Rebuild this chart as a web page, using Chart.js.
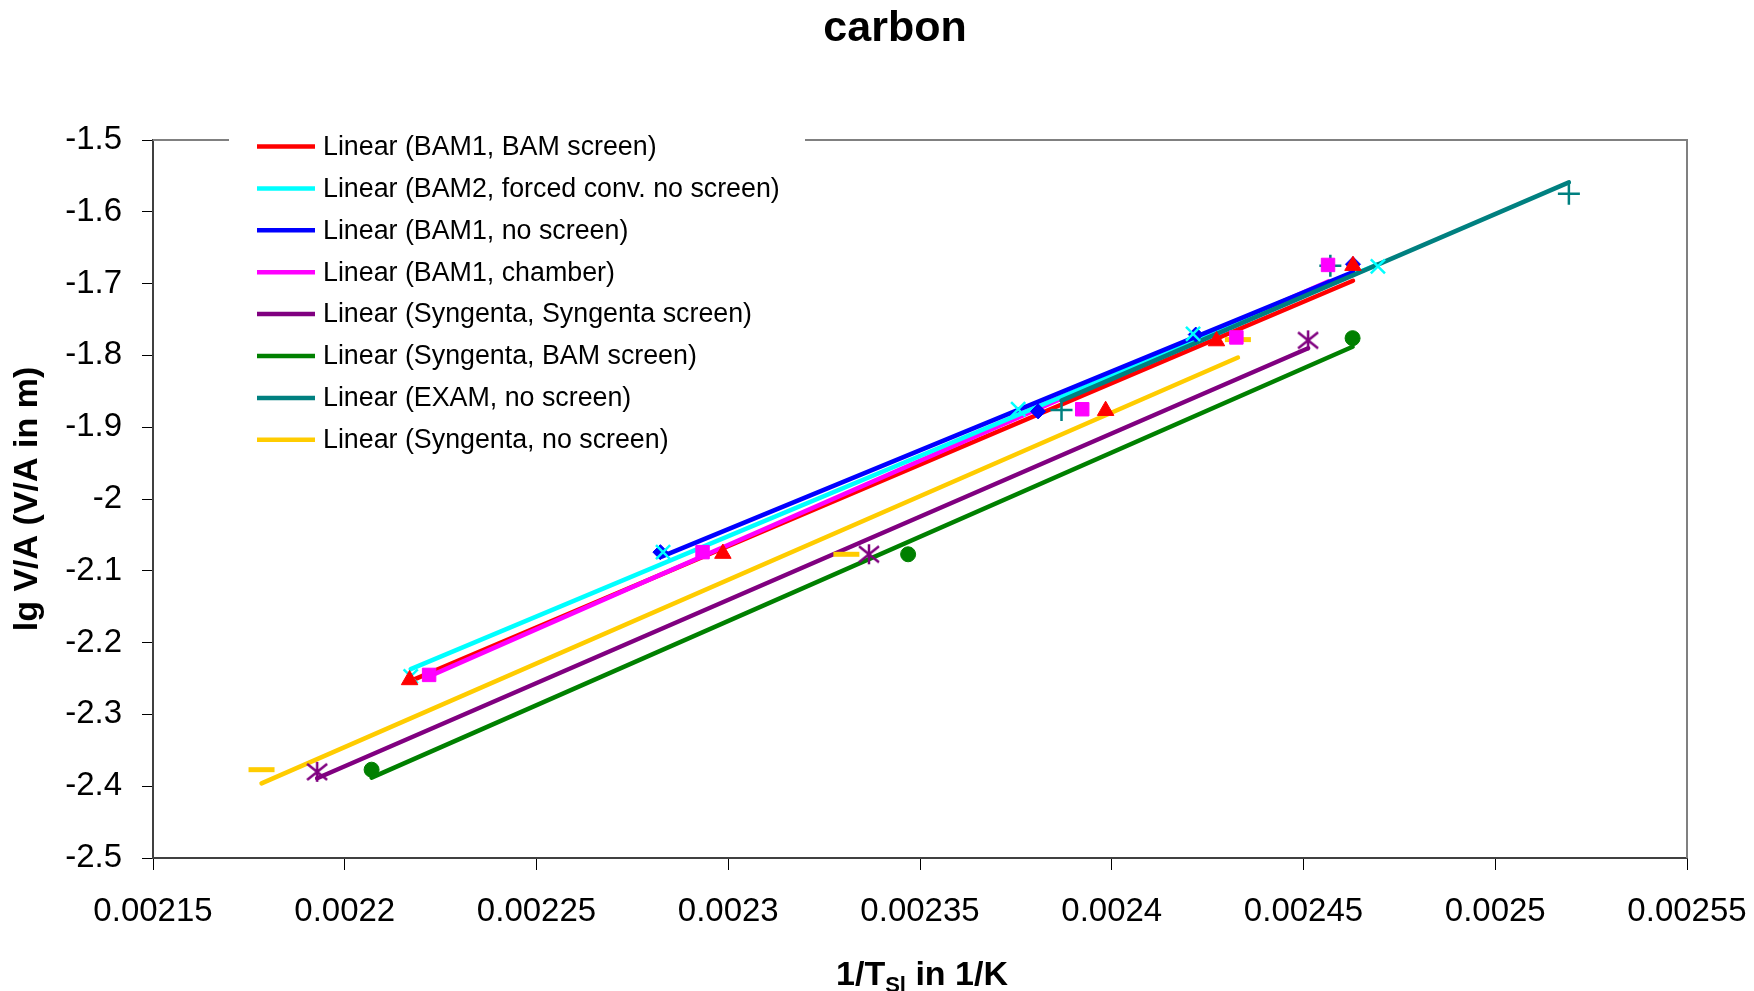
<!DOCTYPE html>
<html lang="en">
<head>
<meta charset="UTF-8">
<title>carbon</title>
<script src="https://cdn.jsdelivr.net/npm/chart.js"></script>
<style>
  html, body { margin: 0; padding: 0; background: #fff; }
  canvas { display: block; }
</style>
</head>
<body>
<canvas id="chart" width="1754" height="991"></canvas>
<script>
// axis ticks
const xTicks = [0.00215, 0.0022, 0.00225, 0.0023, 0.00235, 0.0024, 0.00245, 0.0025, 0.00255];
const xTickLabels = ['0.00215', '0.0022', '0.00225', '0.0023', '0.00235', '0.0024', '0.00245', '0.0025', '0.00255'];
const yTicks = [-2.5, -2.4, -2.3, -2.2, -2.1, -2, -1.9, -1.8, -1.7, -1.6, -1.5];
const yTickLabels = ['-2.5', '-2.4', '-2.3', '-2.2', '-2.1', '-2', '-1.9', '-1.8', '-1.7', '-1.6', '-1.5'];

const seriesNames = [
  'BAM1, BAM screen',
  'BAM2, forced conv. no screen',
  'BAM1, no screen',
  'BAM1, chamber',
  'Syngenta, Syngenta screen',
  'Syngenta, BAM screen',
  'EXAM, no screen',
  'Syngenta, no screen'
];

// measured points (1/T, lg V/A)
const bam1ScreenX  = [0.0022169, 0.0022986, 0.0023984, 0.0024273, 0.0024629];
const bam1ScreenY  = [-2.252, -2.076, -1.877, -1.780, -1.675];
const bam2ForcedX  = [0.0022172, 0.0022830, 0.0023756, 0.0024212, 0.0024694];
const bam2ForcedY  = [-2.247, -2.074, -1.875, -1.770, -1.676];
const bam1NoScrX   = [0.0022823, 0.0023808, 0.0024219, 0.0024629];
const bam1NoScrY   = [-2.074, -1.878, -1.771, -1.673];
const bam1ChamberX = [0.0022220, 0.0022933, 0.0023923, 0.0024325, 0.0024564];
const bam1ChamberY = [-2.245, -2.074, -1.875, -1.775, -1.674];
const synSynX      = [0.0021928, 0.0023367, 0.0024512];
const synSynY      = [-2.380, -2.077, -1.779];
const synBamX      = [0.0022070, 0.0023469, 0.0024628];
const synBamY      = [-2.377, -2.077, -1.776];
const examX        = [0.0023869, 0.0024570, 0.0025192];
const examY        = [-1.876, -1.675, -1.575];
const synNoScrX    = [0.0021783, 0.0023308, 0.0024329];
const synNoScrY    = [-2.377, -2.077, -1.778];

// linear trendlines, end points
const bam1ScreenFitX  = [0.0022169, 0.0024629];
const bam1ScreenFitY  = [-2.254, -1.696];
const bam2ForcedFitX  = [0.0022172, 0.0024694];
const bam2ForcedFitY  = [-2.237, -1.673];
const bam1NoScrFitX   = [0.0022823, 0.0024629];
const bam1NoScrFitY   = [-2.081, -1.684];
const bam1ChamberFitX = [0.0022220, 0.0024564];
const bam1ChamberFitY = [-2.247, -1.697];
const synSynFitX      = [0.0021928, 0.0024512];
const synSynFitY      = [-2.389, -1.790];
const synBamFitX      = [0.0022070, 0.0024628];
const synBamFitY      = [-2.388, -1.788];
const examFitX        = [0.0023869, 0.0025192];
const examFitY        = [-1.863, -1.559];
const synNoScrFitX    = [0.0021783, 0.0024329];
const synNoScrFitY    = [-2.396, -1.803];

const series = [
  [bam1ScreenX, bam1ScreenY, bam1ScreenFitX, bam1ScreenFitY],
  [bam2ForcedX, bam2ForcedY, bam2ForcedFitX, bam2ForcedFitY],
  [bam1NoScrX, bam1NoScrY, bam1NoScrFitX, bam1NoScrFitY],
  [bam1ChamberX, bam1ChamberY, bam1ChamberFitX, bam1ChamberFitY],
  [synSynX, synSynY, synSynFitX, synSynFitY],
  [synBamX, synBamY, synBamFitX, synBamFitY],
  [examX, examY, examFitX, examFitY],
  [synNoScrX, synNoScrY, synNoScrFitX, synNoScrFitY]
];

const FONT = "'Liberation Sans', Arial, sans-serif";

// excel-like star: x with a vertical bar
function starMarker(color) {
  const c = document.createElement('canvas');
  c.width = 22; c.height = 22;
  const g = c.getContext('2d');
  g.strokeStyle = color;
  g.lineWidth = 2.5;
  g.beginPath();
  g.moveTo(11, 1); g.lineTo(11, 21);
  g.moveTo(1, 3); g.lineTo(21, 19);
  g.moveTo(1, 19); g.lineTo(21, 3);
  g.stroke();
  return c;
}

const styles = [
  { color: '#FF0000', marker: 'triangle', r: 9.5, bw: 1, order: 5 },
  { color: '#00FFFF', marker: 'crossRot', r: 10, bw: 2.5, order: 3 },
  { color: '#0000FF', marker: 'rectRot', r: 7.5, bw: 1, order: 2 },
  { color: '#FF00FF', marker: 'rect', r: 9.5, bw: 1, order: 4 },
  { color: '#800080', marker: starMarker('#800080'), r: 10, bw: 2.5, order: 7 },
  { color: '#008000', marker: 'circle', r: 7.5, bw: 1, order: 8 },
  { color: '#008080', marker: 'cross', r: 11, bw: 2.5, order: 1 },
  { color: '#FFCC00', marker: 'line', r: 13, bw: 5, order: 6 }
];

const datasets = [];
series.forEach((s, i) => {
  const st = styles[i];
  datasets.push({
    label: seriesNames[i],
    data: s[0].map((x, k) => ({ x: x, y: s[1][k] })),
    showLine: false,
    pointStyle: st.marker,
    pointRadius: st.r,
    pointBorderWidth: st.bw,
    borderColor: st.color,
    backgroundColor: st.color,
    order: 0
  });
});
series.forEach((s, i) => {
  const st = styles[i];
  datasets.push({
    label: 'Linear (' + seriesNames[i] + ')',
    data: s[2].map((x, k) => ({ x: x, y: s[3][k] })),
    showLine: true,
    isFit: true,
    borderColor: st.color,
    backgroundColor: st.color,
    borderWidth: 4.5,
    borderCapStyle: 'round',
    pointRadius: 0,
    order: st.order
  });
});

// chart title, drawn off-centre like the original
const titlePlugin = {
  id: 'carbonTitle',
  afterDraw(chart) {
    const ctx = chart.ctx;
    ctx.save();
    ctx.fillStyle = '#000';
    ctx.font = 'bold 43px ' + FONT;
    ctx.textAlign = 'center';
    ctx.textBaseline = 'middle';
    ctx.fillText('carbon', 895, 29);
    ctx.restore();
  }
};

// gray frame on top and right side of the plot
const framePlugin = {
  id: 'frame',
  beforeDatasetsDraw(chart) {
    const a = chart.chartArea, ctx = chart.ctx;
    ctx.save();
    ctx.strokeStyle = '#808080';
    ctx.lineWidth = 2;
    ctx.beginPath();
    ctx.moveTo(a.left, a.top);
    ctx.lineTo(a.right, a.top);
    ctx.lineTo(a.right, a.bottom);
    ctx.stroke();
    ctx.restore();
  }
};

// legend inside the plot, only trendlines
const legendPlugin = {
  id: 'insideLegend',
  afterDraw(chart) {
    const ctx = chart.ctx;
    ctx.save();
    ctx.fillStyle = '#fff';
    ctx.fillRect(229, 125, 576, 337);
    const fits = chart.data.datasets.filter(d => d.isFit);
    ctx.font = '26.8px ' + FONT;
    ctx.textBaseline = 'middle';
    fits.forEach((d, i) => {
      const y = 146.5 + i * 41.9;
      ctx.strokeStyle = d.borderColor;
      ctx.lineWidth = 4.5;
      ctx.beginPath();
      ctx.moveTo(257, y);
      ctx.lineTo(315, y);
      ctx.stroke();
      ctx.fillStyle = '#000';
      ctx.fillText(d.label, 323, y + 1);
    });
    ctx.restore();
  }
};

// x axis title with subscript
const xTitlePlugin = {
  id: 'xTitle',
  afterDraw(chart) {
    const ctx = chart.ctx, a = chart.chartArea;
    const parts = [['1/T', 'bold 34px ' + FONT, 0], ['Sl', 'bold 22px ' + FONT, 7], [' in 1/K', 'bold 34px ' + FONT, 0]];
    ctx.save();
    ctx.fillStyle = '#000';
    ctx.textBaseline = 'alphabetic';
    let total = 0;
    parts.forEach(p => { ctx.font = p[1]; total += ctx.measureText(p[0]).width; });
    let x = (a.left + a.right) / 2 - total / 2 + 2;
    const base = 985;
    parts.forEach(p => {
      ctx.font = p[1];
      ctx.fillText(p[0], x, base + p[2]);
      x += ctx.measureText(p[0]).width;
    });
    ctx.restore();
  }
};

new Chart(document.getElementById('chart').getContext('2d'), {
  type: 'scatter',
  data: { datasets: datasets },
  options: {
    responsive: false,
    animation: false,
    layout: { padding: { left: 0, right: 67, top: 140, bottom: 0 } },
    plugins: {
      legend: { display: false },
      tooltip: { enabled: false },
      title: { display: false }
    },
    scales: {
      x: {
        type: 'linear',
        min: 0.00215,
        max: 0.00255,
        afterBuildTicks: s => { s.ticks = xTicks.map(v => ({ value: v })); },
        afterFit: s => { s.height = 133; s.paddingLeft = 0; s.paddingRight = 0; },
        ticks: {
          callback: (v, i) => xTickLabels[i],
          color: '#000',
          font: { family: FONT, size: 33 },
          padding: 22,
          maxRotation: 0,
          autoSkip: false
        },
        grid: { drawOnChartArea: false, tickLength: 12, color: '#000', lineWidth: 1 },
        border: { color: '#404040', width: 2 }
      },
      y: {
        type: 'linear',
        min: -2.5,
        max: -1.5,
        afterBuildTicks: s => { s.ticks = yTicks.map(v => ({ value: v })); },
        afterFit: s => { s.width = 153; s.paddingTop = 0; s.paddingBottom = 0; },
        ticks: {
          callback: (v, i) => yTickLabels[i],
          color: '#000',
          font: { family: FONT, size: 33 },
          padding: 20,
          autoSkip: false
        },
        title: {
          display: true,
          text: 'lg V/A (V/A in m)',
          color: '#000',
          font: { family: FONT, size: 34, weight: 'bold' },
          padding: { top: 7, bottom: 0 }
        },
        grid: { drawOnChartArea: false, tickLength: 11, color: '#000', lineWidth: 1 },
        border: { color: '#404040', width: 2 }
      }
    }
  },
  plugins: [titlePlugin, framePlugin, legendPlugin, xTitlePlugin]
});
</script>
</body>
</html>
